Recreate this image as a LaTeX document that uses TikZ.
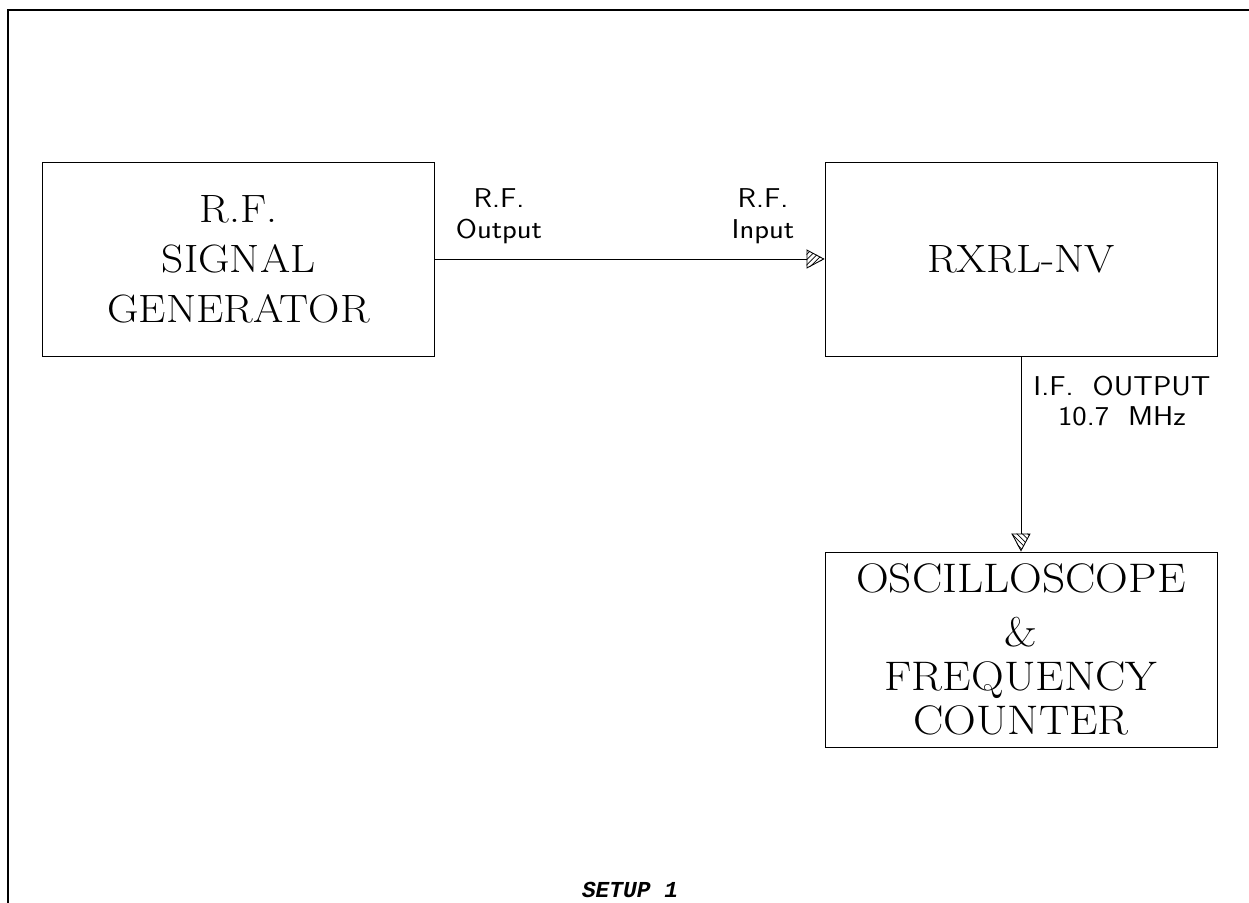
\documentclass[tikz,border=0pt]{standalone}
\usepackage{fontspec}
\usetikzlibrary{calc, positioning, arrows.meta, patterns}
\newfontfamily\setupfont{Liberation Mono}
\newfontfamily\unitfont[FakeStretch=1.1]{Latin Modern Roman}
\newfontfamily\portfont[FakeStretch=1.12]{Latin Modern Sans}

\tikzset{
  unit/.style={draw, line width=0.5pt, minimum width=7.84cm, minimum height=3.88cm,
    align=center, font=\unitfont\fontsize{22.5}{28.5}\selectfont},
  lbl/.style={align=center, font=\portfont\fontsize{15.5}{17.5}\selectfont},
  feed/.style={line width=0.5pt, -{Triangle[open, length=0.36cm, width=0.38cm]}},
}

\begin{document}
\begin{tikzpicture}[x=0.02cm, y=-0.02cm]
  \useasboundingbox (0,0) rectangle (1249,903);
  % sheet frame
  \draw[line width=1.7pt] (8,903) -- (8,10) -- (1249,10);

  % units
  \node[unit] (gen) at (238.5,259) {R.F.\\SIGNAL\\GENERATOR};
  \node[unit] (rx) at (1021,259) {RXRL-NV};
  \node[unit, minimum height=3.9cm, font=\unitfont\fontsize{23.5}{25}\selectfont] (osc) at (1021,649.5)
    {OSCILLOSCOPE\\[0.2cm]\&\\FREQUENCY\\COUNTER};

  % hatched arrow heads
  \fill[pattern=north east lines] (rx.west) -- ++(-18,-9.5) -- ++(0,19) -- cycle;
  \fill[pattern=north west lines] (osc.north) -- ++(-9.5,-18) -- ++(19,0) -- cycle;

  % signal paths
  \draw[feed] (gen.east) -- (rx.west);
  \draw[feed] (rx.south) -- (osc.north);

  % port labels
  \node[lbl] (rfout) at (499,216) {R.F.\\Output};
  \node[lbl] (rfin) at (763,216) {R.F.\\Input};
  \node[lbl] (ifout) at (1122,401) {I.F.~~OUTPUT\\10.7~~MHz};

  \node[font=\setupfont\bfseries\itshape\fontsize{13}{15}\selectfont] (title) at (630,890) {SETUP 1};
\end{tikzpicture}
\end{document}
